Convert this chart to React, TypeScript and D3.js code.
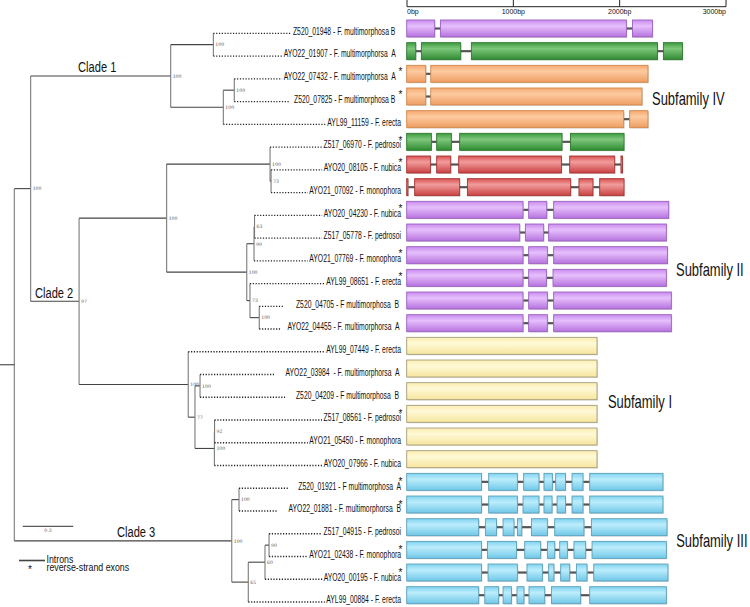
import React, { useEffect, useRef } from "react";
import * as d3 from "d3";

// ---------- DATA ----------
const geneLabels = [
  "Z520_01948 - F. multimorphosa B   ",
  "AYO22_01907 - F. multimorphorsa  A   ",
  "AYO22_07432 - F. multimorphorsa  A   ",
  "  Z520_07825 - F multimorphosa B   ",
  "AYL99_11159 - F. erecta",
  "Z517_06970 - F. pedrosoi",
  "AYO20_08105 - F. nubica",
  "AYO21_07092 - F. monophora",
  "AYO20_04230 - F. nubica",
  "Z517_05778 - F. pedrosoi",
  "AYO21_07769 - F. monophora",
  "AYL99_08651 - F. erecta",
  "      Z520_04705 - F multimorphosa  B ",
  "   AYO22_04455 - F. multimorphorsa  A ",
  "AYL99_07449 - F. erecta",
  "     AYO22_03984  - F. multimorphorsa  A ",
  "     Z520_04209 - F multimorphosa  B ",
  "Z517_08561 - F. pedrosoi",
  "AYO21_05450 - F. monophora",
  "AYO20_07966 - F. nubica",
  "    Z520_01921 - F multimorphosa  A",
  "     AYO22_01881 - F. multimorphorsa  B",
  "Z517_04915 - F. pedrosoi",
  "AYO21_02438 - F. monophora",
  "AYO20_00195 - F. nubica",
  "AYL99_00884 - F. erecta",
];

const reverseStrand = [
  false, false, true, true, false, true, true, false, true, false, true, true, false,
  false, false, false, false, true, false, false, true, true, false, true, true, false,
];

const exonColorKeys = [
  "purple", "green", "orange", "orange", "orange", "green", "red", "red",
  "purple", "purple", "purple", "purple", "purple", "purple",
  "yellow", "yellow", "yellow", "yellow", "yellow", "yellow",
  "cyan", "cyan", "cyan", "cyan", "cyan", "cyan",
];

// exon [start, end] in bp
const exonCoords: number[][][] = [
  [[0, 263], [317, 2066], [2123, 2311]],
  [[0, 85], [138, 508], [608, 2358], [2414, 2593]],
  [[0, 179], [226, 2269]],
  [[0, 179], [226, 2213]],
  [[0, 2041], [2097, 2269]],
  [[0, 232], [282, 420], [498, 1461], [1540, 2044]],
  [[0, 223], [282, 414], [489, 1455], [1533, 1956], [2015, 2029]],
  [[0, 12], [75, 498], [571, 1542], [1620, 1752], [1815, 2044]],
  [[0, 1094], [1147, 1317], [1382, 2464]],
  [[0, 1063], [1116, 1288], [1335, 2442]],
  [[0, 1094], [1147, 1323], [1382, 2452]],
  [[0, 1094], [1147, 1314], [1376, 2442]],
  [[0, 1094], [1147, 1323], [1382, 2489]],
  [[0, 1094], [1147, 1323], [1382, 2489]],
  [[0, 1790]],
  [[0, 1790]],
  [[0, 1790]],
  [[0, 1790]],
  [[0, 1790]],
  [[0, 1790]],
  [[0, 703], [771, 1041], [1100, 1244], [1291, 1370], [1401, 1493], [1555, 1658], [1721, 2410]],
  [[0, 703], [771, 1041], [1094, 1244], [1291, 1367], [1414, 1493], [1555, 1658], [1721, 2410]],
  [[0, 677], [740, 844], [906, 1009], [1041, 1082], [1173, 1323], [1392, 1667], [1737, 2448]],
  [[0, 703], [759, 1032], [1110, 1260], [1323, 1392], [1439, 1511], [1573, 1683], [1743, 2442]],
  [[0, 703], [765, 1041], [1131, 1276], [1335, 1385], [1448, 1533], [1596, 1696], [1759, 2457]],
  [[0, 677], [734, 865], [906, 985], [1037, 1103], [1150, 1298], [1361, 1636], [1721, 2442]],
];

const bpTicks = [0, 1000, 2000, 3000];
const bpTickLabels = ["0bp", "1000bp", "2000bp", "3000bp"];

// tree: internal nodes (id, parent, depth in substitutions/site, bootstrap)
const nodeIds = ["root", "c12", "cl1", "p12", "n345", "p34", "cl2", "up", "rg", "rg78", "s2", "s2a", "s2aa", "s2b", "s2bb", "s1", "s1a", "s1p", "s1q", "s1qq", "cl3", "c3p", "c3a", "c3b", "c3c"];
const nodeParents = ["", "root", "c12", "cl1", "cl1", "n345", "c12", "cl2", "up", "rg", "up", "s2", "s2a", "s2", "s2b", "cl2", "s1", "s1a", "s1a", "s1q", "root", "cl3", "cl3", "c3a", "c3b"];
const nodeDepths = [0, 0.097, 0.927, 1.18, 1.239, 1.304, 0.384, 0.903, 1.516, 1.522, 1.378, 1.421, 1.424, 1.397, 1.452, 1.031, 1.071, 1.101, 1.186, 1.187, 1.289, 1.332, 1.387, 1.486, 1.51];
const nodeSupport = ["", "100", "100", "100", "100", "100", "97", "100", "100", "73", "100", "90", "63", "73", "100", "100", "77", "100", "100", "92", "100", "100", "65", "60", "90"];
const leafParents = ["p12", "p12", "p34", "p34", "n345", "rg", "rg78", "rg78", "s2aa", "s2aa", "s2a", "s2b", "s2bb", "s2bb", "s1", "s1p", "s1p", "s1qq", "s1qq", "s1q", "c3p", "c3p", "c3c", "c3c", "c3b", "c3a"];

const cladeNames = ["Clade 1", "Clade 2", "Clade 3"];
const cladeNodes = ["cl1", "cl2", "cl3"];
const cladeLabelDepth = [0.378, 0.123, 0.609];

const subfamilyNames = ["Subfamily IV", "Subfamily II", "Subfamily I", "Subfamily III"];
const subfamilyRowPos = [3.37, 10.92, 16.74, 22.87];
const subfamilyBpPos = [2304, 2530, 1890, 2532];

const scaleBarValue = 0.3;
const legendLabels = ["Introns", "reverse-strand exons"];

// ---------- STYLE ----------
const palette: Record<string, { top: string; mid: string; bot: string; stroke: string }> = {
  purple: { top: "#c98bee", mid: "#e6bffc", bot: "#b672de", stroke: "#9a60be" },
  green: { top: "#3e9a40", mid: "#7ec77c", bot: "#2f8a31", stroke: "#2a7a2c" },
  orange: { top: "#f5a971", mid: "#fdcba0", bot: "#ee9d62", stroke: "#cf874a" },
  red: { top: "#d95252", mid: "#f29c9c", bot: "#c84141", stroke: "#a53131" },
  yellow: { top: "#fbeeb2", mid: "#fff9d6", bot: "#f6e59e", stroke: "#a49c78" },
  cyan: { top: "#80d3f0", mid: "#bcedfc", bot: "#6fc7e8", stroke: "#5b9fb8" },
};
const FONT = "'Liberation Sans', Arial, sans-serif";

export default function App() {
  const ref = useRef<SVGSVGElement>(null);

  useEffect(() => {
    const svg = d3.select(ref.current);
    svg.selectAll("*").remove();
    const n = geneLabels.length;

    const bpX = d3.scaleLinear().domain([0, 3000]).range([407, 726]);
    const rowY = d3.scaleLinear().domain([0, n - 1]).range([28.5, 595.2]);
    const leafY = d3.scaleLinear().domain([0, n - 1]).range([33.3, 602]);
    const treeX = d3.scaleLinear().domain([0, 1]).range([14.3, 14.3 + 168.7]);

    // gradients
    const defs = svg.append("defs");
    Object.entries(palette).forEach(([k, c]) => {
      const g = defs.append("linearGradient").attr("id", "grad-" + k).attr("x1", 0).attr("y1", 0).attr("x2", 0).attr("y2", 1);
      g.append("stop").attr("offset", "0%").attr("stop-color", c.top);
      g.append("stop").attr("offset", "35%").attr("stop-color", c.mid);
      g.append("stop").attr("offset", "100%").attr("stop-color", c.bot);
    });

    // ---- top bp axis ----
    const ax = svg.append("g");
    ax.append("line").attr("x1", bpX(0)).attr("x2", bpX(3000)).attr("y1", 6.7).attr("y2", 6.7).attr("stroke", "#222").attr("stroke-width", 1);
    bpTicks.forEach((t, i) => {
      ax.append("line").attr("x1", bpX(t)).attr("x2", bpX(t)).attr("y1", 0).attr("y2", 6.7).attr("stroke", "#222").attr("stroke-width", 1);
      ax.append("text")
        .attr("x", bpX(t))
        .attr("y", 14)
        .attr("text-anchor", i === 0 ? "start" : i === bpTicks.length - 1 ? "end" : "middle")
        .attr("font-family", FONT)
        .attr("font-size", 7)
        .attr("fill", "#111")
        .text(bpTickLabels[i]);
    });

    // ---- exon structures ----
    const gx = svg.append("g");
    exonCoords.forEach((exons, k) => {
      const cy = rowY(k);
      const key = exonColorKeys[k];
      const c = palette[key];
      for (let i = 0; i < exons.length - 1; i++) {
        gx.append("line")
          .attr("x1", bpX(exons[i][1]))
          .attr("x2", bpX(exons[i + 1][0]))
          .attr("y1", cy)
          .attr("y2", cy)
          .attr("stroke", "#555")
          .attr("stroke-width", 2.2);
      }
      exons.forEach(([s, e]) => {
        const x0 = bpX(s) - 0.3;
        const w = Math.max(1, bpX(e) - bpX(s));
        gx.append("rect").attr("x", x0 + 1).attr("y", cy - 8.5 + 1).attr("width", w).attr("height", 17).attr("fill", "#000").attr("opacity", 0.12);
        gx.append("rect")
          .attr("x", x0)
          .attr("y", cy - 8.5)
          .attr("width", w)
          .attr("height", 17)
          .attr("fill", `url(#grad-${key})`)
          .attr("stroke", c.stroke)
          .attr("stroke-width", 0.9);
      });
    });

    // subfamily labels
    subfamilyNames.forEach((s, i) => {
      svg.append("g")
        .attr("transform", `translate(${bpX(subfamilyBpPos[i])},${rowY(subfamilyRowPos[i])}) scale(0.72,1)`)
        .append("text")
        .attr("font-family", FONT)
        .attr("font-size", 18)
        .attr("fill", "#111")
        .text(s);
    });

    // ---- tree ----
    type Row = { id: string; parent: string | null; depth?: number; bs?: string; row?: number };
    const table: Row[] = nodeIds.map((id, i) => ({ id, parent: nodeParents[i] || null, depth: nodeDepths[i], bs: nodeSupport[i] }));
    leafParents.forEach((p, i) => table.push({ id: "L" + i, parent: p, row: i }));
    const root = d3.stratify<Row>().id((d) => d.id).parentId((d) => d.parent)(table);

    root.eachAfter((nd: any) => {
      if (!nd.children) {
        nd.py = leafY(nd.data.row);
      } else {
        const ys = nd.children.map((c: any) => c.py);
        nd.py = (d3.min(ys)! + d3.max(ys)!) / 2;
      }
      nd.px = nd.data.depth !== undefined ? treeX(nd.data.depth) : null;
    });

    const gt = svg.append("g");

    // leaf labels (measure to place dotted ends)
    const labelRight = 401;
    const labelScale = 0.68;
    const labelStart: number[] = [];
    geneLabels.forEach((lab, i) => {
      const g = gt.append("g").attr("transform", `translate(${labelRight},${leafY(i) + 1.3}) scale(${labelScale},1)`);
      const t = g
        .append("text")
        .attr("text-anchor", "end")
        .attr("font-family", FONT)
        .attr("font-size", 10)
        .attr("fill", "#111")
        .attr("xml:space", "preserve")
        .style("white-space", "pre")
        .text(lab);
      const w = (t.node() as SVGTextElement).getComputedTextLength() * labelScale;
      labelStart[i] = labelRight - w;
      if (reverseStrand[i]) {
        gt.append("text")
          .attr("x", 400.5)
          .attr("y", leafY(i) - 3.5)
          .attr("text-anchor", "middle")
          .attr("font-family", FONT)
          .attr("font-size", 10)
          .attr("fill", "#111")
          .text("*");
      }
    });

    root.each((nd: any) => {
      if (nd.parent) {
        const x0 = nd.parent.px;
        if (!nd.children) {
          gt.append("line")
            .attr("x1", x0)
            .attr("x2", labelStart[nd.data.row] - 1.5)
            .attr("y1", nd.py)
            .attr("y2", nd.py)
            .attr("stroke", "#222")
            .attr("stroke-width", 1.3)
            .attr("stroke-dasharray", "1.2,1.6");
        } else {
          gt.append("line").attr("x1", x0).attr("x2", nd.px).attr("y1", nd.py).attr("y2", nd.py).attr("stroke", "#444").attr("stroke-width", 1.1);
        }
      }
      if (nd.children) {
        const ys = nd.children.map((c: any) => c.py);
        gt.append("line")
          .attr("x1", nd.px)
          .attr("x2", nd.px)
          .attr("y1", d3.min(ys)!)
          .attr("y2", d3.max(ys)!)
          .attr("stroke", "#7a7a7a")
          .attr("stroke-width", 1.1);
        if (nd.data.bs) {
          gt.append("text")
            .attr("x", nd.px + 2)
            .attr("y", nd.py + 1.8)
            .attr("font-family", "'DejaVu Serif', serif")
            .attr("font-size", 4.6)
            .attr("fill", "#555")
            .text(nd.data.bs);
        }
      }
    });
    // root stub
    gt.append("line").attr("x1", 0).attr("x2", (root as any).px).attr("y1", (root as any).py).attr("y2", (root as any).py).attr("stroke", "#444").attr("stroke-width", 1.1);

    // clade labels
    cladeNames.forEach((name, i) => {
      const nd: any = root.find((d) => d.id === cladeNodes[i]);
      gt.append("g")
        .attr("transform", `translate(${treeX(cladeLabelDepth[i])},${nd.py - 3.6}) scale(0.74,1)`)
        .append("text")
        .attr("font-family", FONT)
        .attr("font-size", 15)
        .attr("fill", "#111")
        .text(name);
    });

    // scale bar
    const sbY = 526.3;
    const sbX0 = 22.7;
    gt.append("line").attr("x1", sbX0).attr("x2", sbX0 + (treeX(scaleBarValue) - treeX(0))).attr("y1", sbY).attr("y2", sbY).attr("stroke", "#333").attr("stroke-width", 1);
    gt.append("text")
      .attr("x", sbX0 + (treeX(scaleBarValue) - treeX(0)) / 2)
      .attr("y", sbY + 6)
      .attr("text-anchor", "middle")
      .attr("font-family", "'DejaVu Serif', serif")
      .attr("font-size", 4.6)
      .attr("fill", "#555")
      .text(String(scaleBarValue));

    // legend
    const lg = svg.append("g");
    lg.append("line").attr("x1", 19).attr("x2", 45).attr("y1", 560.5).attr("y2", 560.5).attr("stroke", "#444").attr("stroke-width", 1.6);
    lg.append("g").attr("transform", "translate(46.5,562.5) scale(0.8,1)")
      .append("text").attr("font-family", FONT).attr("font-size", 11).attr("fill", "#111").text(legendLabels[0]);
    lg.append("text").attr("x", 30).attr("y", 573).attr("text-anchor", "middle").attr("font-family", FONT).attr("font-size", 10).attr("fill", "#111").text("*");
    lg.append("g").attr("transform", "translate(46.5,570.5) scale(0.8,1)")
      .append("text").attr("font-family", FONT).attr("font-size", 11).attr("fill", "#111").text(legendLabels[1]);
  }, []);

  return (
    <svg
      ref={ref}
      width={750}
      height={607}
      style={{ position: "absolute", left: 0, top: 0, background: "#fff" }}
    />
  );
}
